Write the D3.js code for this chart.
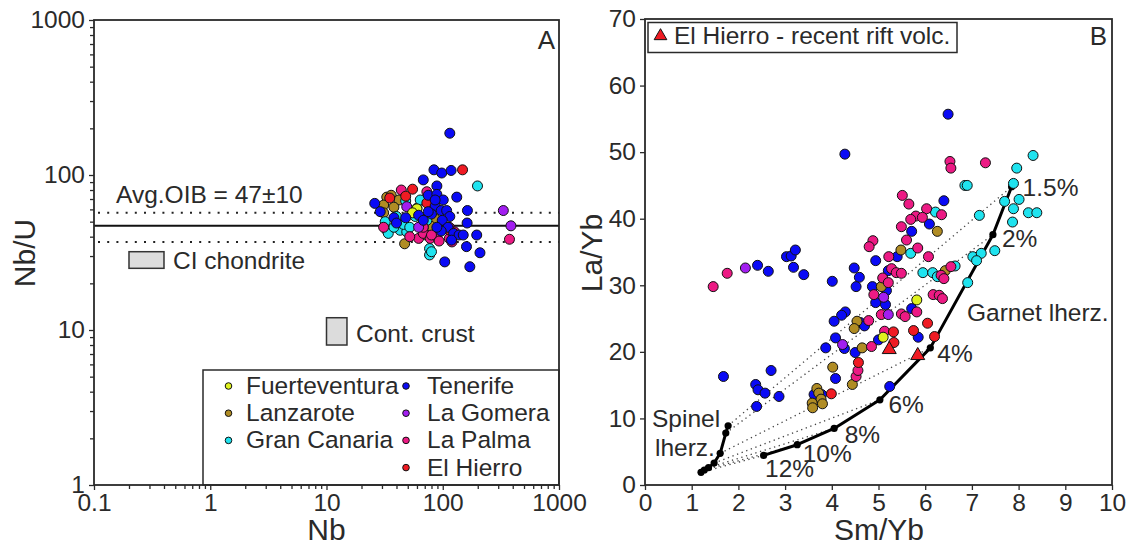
<!DOCTYPE html>
<html>
<head>
<meta charset="utf-8">
<script src="https://cdn.jsdelivr.net/npm/d3@7"></script>
<style>
  body { margin: 0; background: #fff; }
  text { font-family: "Liberation Sans", Arial, sans-serif; fill: #2a2a2a; }
</style>
</head>
<body>
<svg id="fig" width="1129" height="547"></svg>
<script>
// ---------- Panel A: Nb vs Nb/U (log-log) ----------
const islands = ["Fuerteventura", "Lanzarote", "Gran Canaria", "Tenerife", "La Gomera", "La Palma", "El Hierro"];
const islandColors = ["#dff21e", "#b08c24", "#1fe3ef", "#0a0af5", "#a21ef0", "#ec1a84", "#ef1b23"];

const xTicksA = [0.1, 1, 10, 100, 1000];
const xTickLabelsA = ["0.1", "1", "10", "100", "1000"];
const yTicksA = [1, 10, 100, 1000];
const yTickLabelsA = ["1", "10", "100", "1000"];

const oibNbU = 47;
const oibBand = [37, 57];
const chondriteNb = [0.2, 0.4], chondriteNbU = [25, 32];
const crustNb = [10, 15], crustNbU = [8, 12];

// [Nb, Nb/U]
const fuerteventuraA = [[60, 60.5], [55, 57]];
const lanzaroteA = [[33, 72], [36, 74], [42, 69], [31, 64], [47, 36], [86, 52], [78, 47], [72, 41], [38, 62], [31, 57]];
const granCanariaA = [[199, 85], [32, 50], [33, 44], [34, 42], [43, 44], [49, 43], [40, 54], [48, 68], [60, 61], [64, 69], [58, 54], [68, 46], [73, 51], [77, 33.5], [77, 30.5], [80, 32], [46, 48], [52, 46], [38, 46]];
const laPalmaA = [[44, 80], [31, 46], [62, 39], [68, 42], [78, 39], [89, 40], [114, 46], [126, 43], [114, 39], [120, 37], [93, 37.5], [73, 78], [68, 46], [375, 38.5], [52, 40], [80, 41]];
const elHierroA = [[148, 108], [55, 81], [35, 71], [73, 66], [115, 44], [48, 73]];
const laGomeraA = [[332, 59], [386, 47], [49, 62.5], [62, 46]];
const tenerifeA = [[115, 186], [84, 108], [98, 103], [118, 107], [68, 93], [89, 85], [132, 72], [163, 59], [162, 49], [196, 41], [160, 34.5], [209, 31.5], [104, 27.5], [171, 25.6], [26, 65.6], [29, 58], [38, 53], [40, 49], [48, 53], [75, 74], [89, 75], [101, 69], [86, 63], [97, 59], [108, 59], [115, 54], [99, 51], [111, 46], [97, 43.5], [124, 42], [138, 41], [150, 41], [119, 38], [80, 56], [75, 58], [62, 55], [89, 46], [86, 69], [68, 51]];

// ---------- Panel B: Sm/Yb vs La/Yb ----------
const xTicksB = [0, 1, 2, 3, 4, 5, 6, 7, 8, 9, 10];
const yTicksB = [0, 10, 20, 30, 40, 50, 60, 70];

// [Sm/Yb, La/Yb]
const tenerifeB = [[6.49, 55.7], [4.28, 49.7], [6.40, 42.7], [5.71, 38.1], [6.09, 39.2], [5.40, 34.3], [4.94, 33.7], [4.48, 32.6], [4.59, 31.2], [4.52, 29.8], [4.87, 29.8], [4.94, 27.4], [5.15, 27.1], [5.17, 29.2], [5.21, 32.2], [5.71, 26.5], [4.01, 30.6], [3.03, 34.3], [3.13, 34.4], [3.22, 35.3], [3.18, 32.7], [3.40, 31.6], [2.64, 32.1], [2.41, 33.0], [4.29, 26.0], [4.21, 25.5], [4.05, 24.6], [4.61, 24.4], [4.70, 23.9], [4.08, 22.1], [4.27, 20.5], [3.87, 20.6], [4.50, 19.9], [5.00, 21.8], [5.85, 22.2], [1.68, 16.3], [2.70, 17.2], [2.37, 15.1], [2.42, 14.3], [2.57, 13.8], [2.87, 13.3], [2.39, 11.8], [4.08, 16.0], [3.62, 13.6], [3.78, 13.6], [5.24, 14.8]];
const lanzaroteB = [[6.26, 38.1], [5.48, 35.3], [5.06, 29.8], [4.54, 24.6], [4.48, 23.5], [4.65, 20.6], [6.43, 32.2], [4.02, 17.7], [4.44, 15.1], [3.68, 14.5], [3.72, 13.8], [3.77, 12.9], [3.58, 12.3], [3.80, 12.2], [3.59, 11.6]];
const granCanariaB = [[8.31, 49.5], [7.96, 47.6], [7.89, 45.3], [6.85, 45.0], [6.90, 45.0], [7.70, 42.6], [8.01, 42.9], [7.89, 41.5], [8.21, 40.9], [8.39, 40.9], [7.16, 40.5], [7.87, 39.5], [6.22, 41.0], [5.69, 34.8], [7.02, 34.3], [7.20, 34.8], [7.49, 35.2], [7.10, 33.7], [5.95, 31.9], [6.16, 31.9], [6.26, 31.3], [6.64, 32.9], [6.91, 30.4]];
const laPalmaB = [[6.53, 48.6], [6.55, 47.6], [7.29, 48.4], [5.51, 43.5], [5.65, 42.2], [6.03, 41.5], [6.35, 40.6], [5.80, 40.4], [5.94, 40.2], [5.69, 39.9], [5.49, 38.8], [5.60, 36.8], [5.84, 35.6], [4.88, 36.7], [4.80, 35.8], [5.22, 34.3], [6.07, 34.3], [5.28, 32.5], [5.38, 31.9], [5.49, 31.8], [5.09, 31.1], [5.21, 30.4], [6.34, 31.5], [6.40, 31.0], [6.55, 32.8], [6.17, 28.6], [6.30, 28.5], [6.37, 28.0], [4.90, 28.6], [5.06, 25.6], [5.49, 25.7], [5.57, 25.3], [5.82, 26.0], [4.79, 24.7], [5.13, 23.1], [4.85, 20.8], [1.46, 29.8], [1.76, 31.8], [4.52, 16.3], [4.56, 17.2]];
const laGomeraB = [[2.15, 32.6], [5.11, 28.2], [5.21, 25.6], [4.23, 21.1]];
const fuerteventuraB = [[5.82, 27.8], [5.10, 22.2]];
const elHierroB = [[5.32, 23.0], [5.75, 23.2], [6.05, 24.3], [6.20, 22.3], [5.33, 21.4], [4.57, 18.4], [3.99, 13.7]];
const elHierroRiftB = [[5.23, 20.2], [5.84, 19.3]];

// Non-modal batch melting: garnet and spinel lherzolite sources
const meltDegrees = ["1.5%", "2%", "4%", "6%", "8%", "10%", "12%"];
const garnetSmYb = [7.85, 7.45, 6.11, 5.03, 4.05, 3.26, 2.54];
const garnetLaYb = [44.8, 37.6, 20.6, 12.8, 8.5, 6.05, 4.45];
const spinelSmYb = [1.78, 1.73, 1.61, 1.48, 1.36, 1.27, 1.20];
const spinelLaYb = [8.9, 7.8, 4.76, 3.3, 2.6, 2.25, 1.9];

// ---------- drawing ----------
const svg = d3.select("#fig");
const ink = "#2a2a2a";
const fs = 24.5;

function styleAxis(g) {
  g.select(".domain").remove();
  g.selectAll(".tick line").attr("stroke", ink).attr("stroke-width", 1.3);
  g.selectAll(".tick text").attr("font-size", fs).attr("fill", ink)
    .style("font-family", '"Liberation Sans", Arial, sans-serif');
}

function logMinors(lo, hi) {
  const out = [];
  for (let d = lo; d < hi; d *= 10) for (let k = 2; k <= 9; k++) out.push(+(d * k).toPrecision(3));
  return out;
}

function drawDots(g, data, x, y, color, r) {
  g.selectAll(null).data(data).join("circle")
    .attr("cx", d => x(d[0])).attr("cy", d => y(d[1])).attr("r", r)
    .attr("fill", color).attr("stroke", "#111").attr("stroke-width", 1);
}

// ===== Panel A =====
const xA = d3.scaleLog().domain([0.1, 1000]).range([94, 559]);
const yA = d3.scaleLog().domain([1, 1000]).range([485, 20]);
const gA = svg.append("g");

gA.append("g").attr("transform", "translate(0,485)")
  .call(d3.axisBottom(xA).tickValues(logMinors(0.1, 1000)).tickSize(4).tickFormat(""))
  .call(styleAxis);
gA.append("g").attr("transform", "translate(0,485)")
  .call(d3.axisBottom(xA).tickValues(xTicksA).tickSize(5).tickPadding(4)
    .tickFormat((d, i) => xTickLabelsA[i]))
  .call(styleAxis);
gA.append("g").attr("transform", "translate(94,0)")
  .call(d3.axisLeft(yA).tickValues(logMinors(1, 1000)).tickSize(4).tickFormat(""))
  .call(styleAxis);
gA.append("g").attr("transform", "translate(94,0)")
  .call(d3.axisLeft(yA).tickValues(yTicksA).tickSize(5).tickPadding(4)
    .tickFormat((d, i) => yTickLabelsA[i]))
  .call(styleAxis);

// OIB average and ±10 band
gA.append("line").attr("x1", xA(0.1)).attr("x2", xA(1000))
  .attr("y1", yA(oibNbU)).attr("y2", yA(oibNbU)).attr("stroke", "#111").attr("stroke-width", 2);
oibBand.forEach(v => {
  gA.append("line").attr("x1", xA(0.1) + 4).attr("x2", xA(1000))
    .attr("y1", yA(v)).attr("y2", yA(v)).attr("stroke", "#222").attr("stroke-width", 2)
    .attr("stroke-dasharray", "2,7.2");
});
gA.append("text").attr("x", 116).attr("y", 203).attr("font-size", fs).text("Avg.OIB = 47±10");

// Reference reservoirs
[[chondriteNb, chondriteNbU], [crustNb, crustNbU]].forEach(([nb, nbu]) => {
  gA.append("rect").attr("x", xA(nb[0])).attr("y", yA(nbu[1]))
    .attr("width", xA(nb[1]) - xA(nb[0])).attr("height", yA(nbu[0]) - yA(nbu[1]))
    .attr("fill", "#dcdcdc").attr("stroke", "#333").attr("stroke-width", 1.5);
});
gA.append("text").attr("x", 173).attr("y", 269).attr("font-size", fs).text("CI chondrite");
gA.append("text").attr("x", 356).attr("y", 342).attr("font-size", fs).text("Cont. crust");

// Legend box
gA.append("rect").attr("x", 203).attr("y", 370).attr("width", 559 - 203).attr("height", 485 - 370)
  .attr("fill", "#fff").attr("stroke", ink).attr("stroke-width", 1.5);
islands.forEach((name, i) => {
  const col = i < 3 ? 0 : 1, row = i < 3 ? i : i - 3;
  const mx = col === 0 ? 228.5 : 406, cy = 386 + row * 27.2;
  gA.append("circle").attr("cx", mx).attr("cy", cy).attr("r", 3.3)
    .attr("fill", islandColors[i]).attr("stroke", "#111").attr("stroke-width", 1);
  gA.append("text").attr("x", col === 0 ? 246 : 427).attr("y", cy + 8).attr("font-size", fs).text(name);
});

// Samples
const ptsA = gA.append("g");
[[lanzaroteA, 1], [granCanariaA, 2], [laPalmaA, 5], [elHierroA, 6], [laGomeraA, 4], [fuerteventuraA, 0], [tenerifeA, 3]]
  .forEach(([data, ci]) => drawDots(ptsA, data, xA, yA, islandColors[ci], 5));

// Frame
gA.append("rect").attr("x", 94).attr("y", 20).attr("width", 559 - 94).attr("height", 485 - 20)
  .attr("fill", "none").attr("stroke", ink).attr("stroke-width", 1.8);
gA.append("text").attr("x", 555).attr("y", 49).attr("text-anchor", "end").attr("font-size", 26).text("A");

gA.append("text").attr("x", 326.5).attr("y", 540).attr("text-anchor", "middle").attr("font-size", 30).text("Nb");
gA.append("text").attr("transform", "translate(35,253) rotate(-90)").attr("text-anchor", "middle")
  .attr("font-size", 30).text("Nb/U");

// ===== Panel B =====
const xB = d3.scaleLinear().domain([0, 10]).range([645, 1112]);
const yB = d3.scaleLinear().domain([0, 70]).range([485, 19]);
const gB = svg.append("g");

gB.append("g").attr("transform", "translate(0,485)")
  .call(d3.axisBottom(xB).tickValues(xTicksB).tickSize(5).tickPadding(4).tickFormat(d3.format("d")))
  .call(styleAxis);
gB.append("g").attr("transform", "translate(645,0)")
  .call(d3.axisLeft(yB).tickValues(yTicksB).tickSize(5).tickPadding(4).tickFormat(d3.format("d")))
  .call(styleAxis);

// Mixing lines between spinel- and garnet-facies melts of equal degree
meltDegrees.forEach((m, i) => {
  gB.append("line")
    .attr("x1", xB(spinelSmYb[i])).attr("y1", yB(spinelLaYb[i]))
    .attr("x2", xB(garnetSmYb[i])).attr("y2", yB(garnetLaYb[i]))
    .attr("stroke", "#444").attr("stroke-width", 1.3).attr("stroke-dasharray", "1.3,3.6");
});

// Melting curves
const lineB = d3.line().x(d => xB(d[0])).y(d => yB(d[1]));
[[garnetSmYb, garnetLaYb], [spinelSmYb, spinelLaYb]].forEach(([sx, sy]) => {
  const pts = sx.map((v, i) => [v, sy[i]]);
  gB.append("path").attr("d", lineB(pts)).attr("fill", "none")
    .attr("stroke", "#000").attr("stroke-width", 3).attr("stroke-linejoin", "round");
  gB.selectAll(null).data(pts).join("circle")
    .attr("cx", d => xB(d[0])).attr("cy", d => yB(d[1])).attr("r", 3.6).attr("fill", "#000");
});

// Samples
const ptsB = gB.append("g");
[[tenerifeB, 3], [lanzaroteB, 1], [granCanariaB, 2], [laPalmaB, 5], [laGomeraB, 4], [fuerteventuraB, 0], [elHierroB, 6]]
  .forEach(([data, ci]) => drawDots(ptsB, data, xB, yB, islandColors[ci], 5));

const tri = d3.symbol().type(d3.symbolTriangle).size(85);
ptsB.selectAll(null).data(elHierroRiftB).join("path")
  .attr("d", tri).attr("transform", d => `translate(${xB(d[0])},${yB(d[1]) - 1})`)
  .attr("fill", islandColors[6]).attr("stroke", "#111").attr("stroke-width", 1);

// Melt-degree labels
const degOffsets = [[11, 9], [9, 12], [7, 14], [8.5, 13], [10.5, 15], [5.5, 17.5], [1.5, 21.5]];
meltDegrees.forEach((m, i) => {
  gB.append("text").attr("x", xB(garnetSmYb[i]) + degOffsets[i][0])
    .attr("y", yB(garnetLaYb[i]) + degOffsets[i][1]).attr("font-size", fs).text(m);
});
gB.append("text").attr("x", 967).attr("y", 321).attr("font-size", fs).text("Garnet lherz.");
gB.append("text").attr("x", 652).attr("y", 427).attr("font-size", fs).text("Spinel");
gB.append("text").attr("x", 655).attr("y", 456).attr("font-size", fs).text("lherz.");

// Legend
gB.append("rect").attr("x", 648).attr("y", 22.5).attr("width", 957 - 648).attr("height", 30)
  .attr("fill", "#fff").attr("stroke", ink).attr("stroke-width", 1.5);
gB.append("path").attr("d", d3.symbol().type(d3.symbolTriangle).size(70))
  .attr("transform", "translate(660.5,36)")
  .attr("fill", islandColors[6]).attr("stroke", "#111").attr("stroke-width", 1);
gB.append("text").attr("x", 674).attr("y", 44).attr("font-size", fs).text("El Hierro - recent rift volc.");

// Frame
gB.append("rect").attr("x", 645).attr("y", 19).attr("width", 1112 - 645).attr("height", 485 - 19)
  .attr("fill", "none").attr("stroke", ink).attr("stroke-width", 1.8);
gB.append("text").attr("x", 1107).attr("y", 45).attr("text-anchor", "end").attr("font-size", 26).text("B");

gB.append("text").attr("x", 879).attr("y", 540).attr("text-anchor", "middle").attr("font-size", 30).text("Sm/Yb");
gB.append("text").attr("transform", "translate(602,253) rotate(-90)").attr("text-anchor", "middle")
  .attr("font-size", 30).text("La/Yb");
</script>
</body>
</html>
